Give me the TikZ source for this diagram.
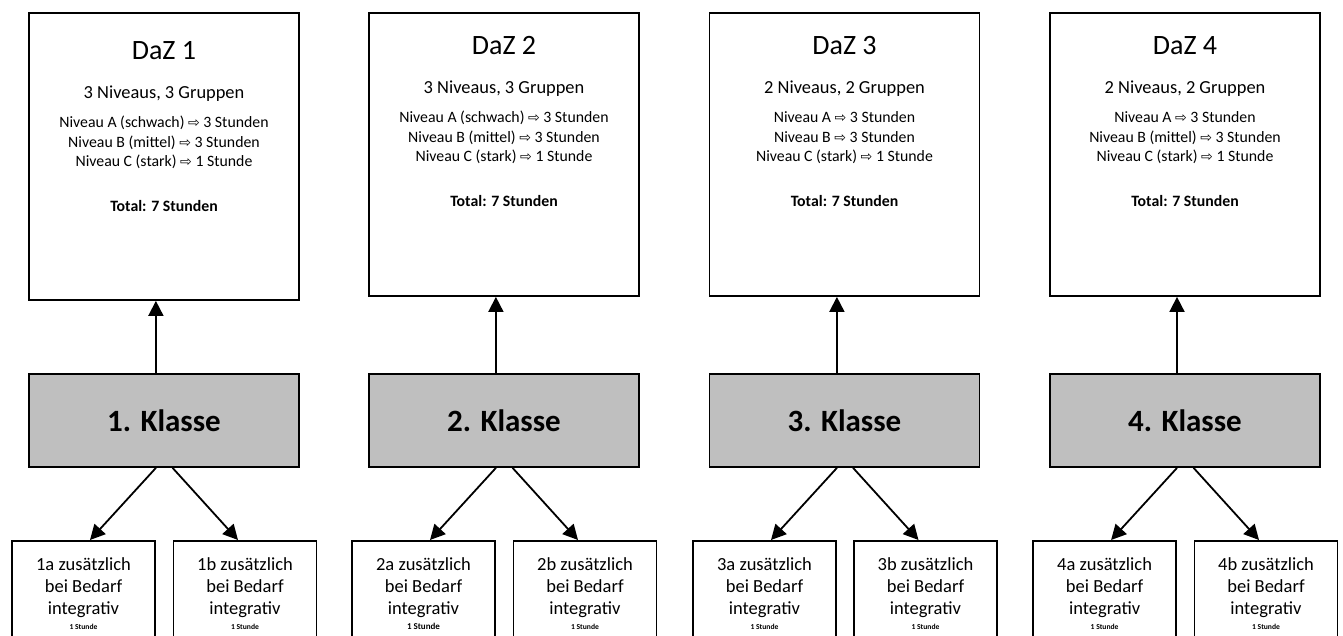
\documentclass[tikz,border=0pt]{standalone}
\usepackage{fontspec}
\setmainfont{Carlito}
\newfontfamily\arrowfont{DejaVu Sans}
\newcommand{\pfeil}{{\arrowfont\fontsize{14}{19.5}\selectfont ⇨}}
\newcommand{\titel}[1]{{\fontsize{28}{28}\selectfont\rule{0pt}{20pt}#1}}
\usetikzlibrary{arrows.meta, positioning}

\begin{document}
\begin{tikzpicture}[
    x=1pt, y=-1pt,
    line width=1.8pt,
    >={Triangle[width=15pt,length=15pt]},
    dazbox/.style={draw, minimum width=270pt, minimum height=283pt, inner sep=0pt},
    dazinfo/.style={anchor=north, align=center, inner sep=0pt, font=\fontsize{15.8}{19.5}\selectfont},
    klasse/.style={draw, fill=black!25, minimum width=270pt, minimum height=93pt, font=\fontsize{31}{36}\selectfont\bfseries},
    extra/.style={draw, anchor=north, minimum width=143pt, align=center, inner ysep=17pt, font=\fontsize{18.5}{22}\selectfont}
]
\useasboundingbox (0,0) rectangle (1343,636);
\clip (0,0) rectangle (1343,636);

% DaZ boxes
\node[dazbox, minimum height=287pt] (daz1) at (164,156.5) {};
\node[dazbox] (daz2) at (504,154.5) {};
\node[dazbox] (daz3) at (844.5,154.5) {};
\node[dazbox] (daz4) at (1185,154.5) {};

\node[dazinfo] (info1) at ([yshift=-27pt]daz1.north) {\titel{DaZ 1}\\[19.5pt]
    {\fontsize{18.4}{18}\selectfont 3 Niveaus, 3 Gruppen}\\[9.5pt]
    Niveau A (schwach) \pfeil{} 3 Stunden\\
    Niveau B (mittel) \pfeil{} 3 Stunden\\
    Niveau C (stark) \pfeil{} 1 Stunde\\[25.5pt]
    \textbf{Total: 7 Stunden}};
\node[dazinfo] (info2) at ([yshift=-22pt]daz2.north) {\titel{DaZ 2}\\[19.5pt]
    {\fontsize{18.4}{18}\selectfont 3 Niveaus, 3 Gruppen}\\[9.5pt]
    Niveau A (schwach) \pfeil{} 3 Stunden\\
    Niveau B (mittel) \pfeil{} 3 Stunden\\
    Niveau C (stark) \pfeil{} 1 Stunde\\[25.5pt]
    \textbf{Total: 7 Stunden}};
\node[dazinfo] (info3) at ([yshift=-22pt]daz3.north) {\titel{DaZ 3}\\[19.5pt]
    {\fontsize{18.4}{18}\selectfont 2 Niveaus, 2 Gruppen}\\[9.5pt]
    Niveau A \pfeil{} 3 Stunden\\
    Niveau B \pfeil{} 3 Stunden\\
    Niveau C (stark) \pfeil{} 1 Stunde\\[25.5pt]
    \textbf{Total: 7 Stunden}};
\node[dazinfo] (info4) at ([yshift=-22pt]daz4.north) {\titel{DaZ 4}\\[19.5pt]
    {\fontsize{18.4}{18}\selectfont 2 Niveaus, 2 Gruppen}\\[9.5pt]
    Niveau A \pfeil{} 3 Stunden\\
    Niveau B (mittel) \pfeil{} 3 Stunden\\
    Niveau C (stark) \pfeil{} 1 Stunde\\[25.5pt]
    \textbf{Total: 7 Stunden}};

% Klassen
\node[klasse] (k1) at (164,420.5) {1. Klasse};
\node[klasse] (k2) at (504,420.5) {2. Klasse};
\node[klasse] (k3) at (844.5,420.5) {3. Klasse};
\node[klasse] (k4) at (1185,420.5) {4. Klasse};

% integrative Stunden
\node[extra] (a1) at (83.5,540) {1a zusätzlich\\ bei Bedarf\\ integrativ\\[-7pt] {\fontsize{7.6}{8}\selectfont\bfseries 1 Stunde}};
\node[extra] (b1) at (245,540) {1b zusätzlich\\ bei Bedarf\\ integrativ\\[-7pt] {\fontsize{7.6}{8}\selectfont\bfseries 1 Stunde}};
\node[extra] (a2) at (423.5,540) {2a zusätzlich\\ bei Bedarf\\ integrativ\\[-7pt] {\fontsize{9}{9}\selectfont\bfseries 1 Stunde}};
\node[extra] (b2) at (585,540) {2b zusätzlich\\ bei Bedarf\\ integrativ\\[-7pt] {\fontsize{7.6}{8}\selectfont\bfseries 1 Stunde}};
\node[extra] (a3) at (764.5,540) {3a zusätzlich\\ bei Bedarf\\ integrativ\\[-7pt] {\fontsize{7.6}{8}\selectfont\bfseries 1 Stunde}};
\node[extra] (b3) at (925.5,540) {3b zusätzlich\\ bei Bedarf\\ integrativ\\[-7pt] {\fontsize{7.6}{8}\selectfont\bfseries 1 Stunde}};
\node[extra] (a4) at (1104.6,540) {4a zusätzlich\\ bei Bedarf\\ integrativ\\[-7pt] {\fontsize{7.6}{8}\selectfont\bfseries 1 Stunde}};
\node[extra] (b4) at (1266,540) {4b zusätzlich\\ bei Bedarf\\ integrativ\\[-7pt] {\fontsize{7.6}{8}\selectfont\bfseries 1 Stunde}};

% arrows
\draw[->] (a1.east |- k1.north) -- (a1.east |- daz1.south);
\draw[->] (a2.east |- k2.north) -- (a2.east |- daz2.south);
\draw[->] (a3.east |- k3.north) -- (a3.east |- daz3.south);
\draw[->] (a4.east |- k4.north) -- (a4.east |- daz4.south);

\draw[->] (a1.east |- k1.south) -- ([xshift=6.5pt]a1.north);
\draw[->] (b1.west |- k1.south) -- ([xshift=-7pt]b1.north);
\draw[->] (a2.east |- k2.south) -- ([xshift=6.5pt]a2.north);
\draw[->] (b2.west |- k2.south) -- ([xshift=-7pt]b2.north);
\draw[->] (a3.east |- k3.south) -- ([xshift=6.5pt]a3.north);
\draw[->] (b3.west |- k3.south) -- ([xshift=-7pt]b3.north);
\draw[->] (a4.east |- k4.south) -- ([xshift=6.5pt]a4.north);
\draw[->] (b4.west |- k4.south) -- ([xshift=-7pt]b4.north);

\end{tikzpicture}
\end{document}
